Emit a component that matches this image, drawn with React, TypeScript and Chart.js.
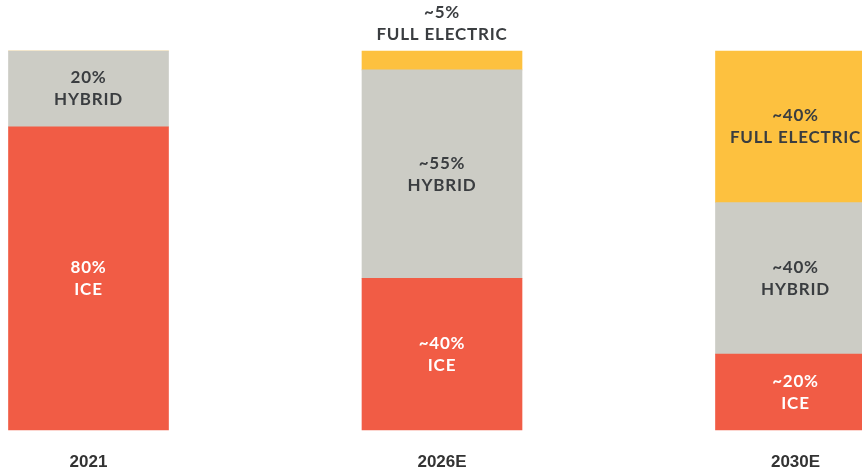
import React, { useEffect, useRef } from "react";
import { Chart, registerables } from "chart.js";

Chart.register(...registerables);

const categories = ["2021", "2026E", "2030E"];
const iceValues = [80, 40, 20];
const hybridValues = [20, 55, 40];
const electricValues = [0, 5, 40];
const iceLabels = ["80%", "~40%", "~20%"];
const hybridLabels = ["20%", "~55%", "~40%"];
const electricLabels = ["", "~5%", "~40%"];

const seriesNames = ["ICE", "HYBRID", "FULL ELECTRIC"];
const seriesColors = ["#F15C45", "#CCCCC5", "#FDC13F"];
const seriesTextColors = ["#FFFFFF", "#3A3D40", "#3A3D40"];

const W = 862;
const H = 473;

const labelPlugin = {
  id: "segmentLabels",
  afterDatasetsDraw(chart: any) {
    const ctx = chart.ctx;
    const valueLabels = [iceLabels, hybridLabels, electricLabels];
    ctx.save();
    ctx.font = "bold 17px Lato, 'Open Sans', sans-serif";
    try {
      (ctx as any).letterSpacing = "0.8px";
    } catch (e) {}
    ctx.textAlign = "center";
    ctx.textBaseline = "middle";
    chart.data.datasets.forEach((ds: any, di: number) => {
      const meta = chart.getDatasetMeta(di);
      meta.data.forEach((el: any, i: number) => {
        const txt = valueLabels[di][i];
        if (!txt) return;
        const top = Math.min(el.y, el.base);
        const bottom = Math.max(el.y, el.base);
        const h = bottom - top;
        const lh = 22;
        let cy: number;
        let color = seriesTextColors[di];
        if (h < 45) {
          cy = top - 27;
          color = "#3A3D40";
        } else {
          cy = (top + bottom) / 2;
        }
        ctx.fillStyle = color;
        ctx.fillText(txt, el.x, cy - lh / 2);
        ctx.fillText(seriesNames[di], el.x, cy + lh / 2);
      });
    });
    ctx.restore();
  },
};

export default function App() {
  const ref = useRef<HTMLCanvasElement | null>(null);

  useEffect(() => {
    if (!ref.current) return;
    const values = [iceValues, hybridValues, electricValues];
    const chart = new Chart(ref.current, {
      type: "bar",
      data: {
        labels: categories,
        datasets: values.map((v, i) => ({
          label: seriesNames[i],
          data: v,
          backgroundColor: seriesColors[i],
          borderWidth: 0,
          barThickness: 160,
          clip: false as any,
        })),
      },
      options: {
        animation: false,
        responsive: false,
        devicePixelRatio: 1,
        layout: { padding: { left: 88.5, right: 66.5, top: 51, bottom: 3 } },
        plugins: { legend: { display: false }, tooltip: { enabled: false } },
        scales: {
          x: {
            stacked: true,
            offset: false,
            grid: { display: false, drawTicks: false },
            border: { display: false },
            afterFit: (scale: any) => {
              scale.height = 40;
            },
            ticks: {
              padding: 22,
              color: "#333333",
              font: { family: "'Liberation Sans Narrow', 'Liberation Sans', Arial, sans-serif", size: 17, weight: "bold" },
              maxRotation: 0,
              autoSkip: false,
            },
          },
          y: {
            stacked: true,
            display: false,
            min: 0,
            max: 100,
          },
        },
      },
      plugins: [labelPlugin],
    });
    return () => chart.destroy();
  }, []);

  return (
    <div style={{ position: "fixed", left: 0, top: 0, width: W, height: H, overflow: "hidden", background: "#fff" }}>
      <canvas ref={ref} width={W} height={H} style={{ display: "block", width: W, height: H }} />
    </div>
  );
}
